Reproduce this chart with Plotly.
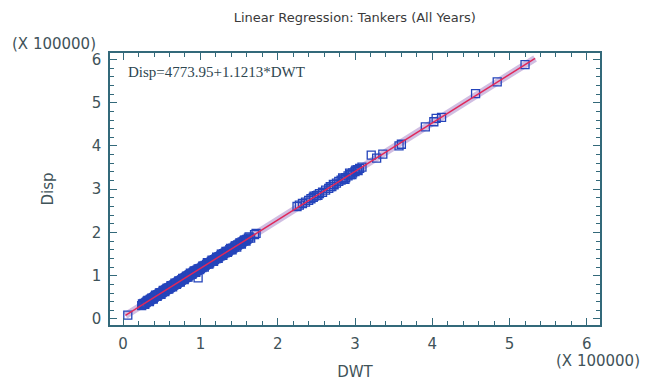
import numpy as np
import plotly.graph_objects as go

# Tanker data (thousand tonnes): deadweight vs displacement
dwt_k = [6, 24, 26, 27, 29, 30, 31, 33, 34, 35, 36, 38, 39, 40, 41, 42, 43, 44, 45, 46,
         47, 48, 49, 50, 51, 52, 53, 54, 55, 56, 57, 58, 59, 60, 61, 62, 63, 64, 65, 66,
         67, 68, 69, 70, 71, 72, 73, 74, 75, 76, 77, 78, 79, 80, 81, 82, 83, 84, 85, 86,
         87, 88, 89, 90, 91, 92, 93, 94, 95, 96, 97, 98, 99, 100, 102, 104, 106, 108, 110, 112,
         114, 116, 118, 120, 122, 124, 126, 128, 130, 132, 134, 136, 138, 140, 142, 144, 146, 148, 150, 152,
         154, 156, 158, 160, 162, 170, 172,
         25, 28, 32, 34, 37, 39, 42, 44, 47, 49, 52, 54, 57, 59, 62, 64, 67, 69, 72, 74,
         77, 79, 82, 84, 87, 89, 92, 94, 97, 99, 103, 105, 109, 111, 115, 117, 121, 123, 127, 129,
         133, 135, 139, 141, 145, 147, 151, 153, 157, 159, 163, 165,
         225, 228, 232, 236, 240, 243, 246, 250, 254, 258, 262, 266, 270, 273, 276, 279, 282, 285, 288, 291,
         294, 297, 300, 303, 306, 309, 247, 252, 268, 272, 284, 287, 293, 296, 301, 304,
         321, 328, 336, 357, 360, 391, 402, 405, 412, 456, 484, 520]
disp_k = [9, 31, 34, 36, 37, 39, 41, 41, 43, 45, 46, 47, 49, 50, 52, 52, 54, 55, 56, 57,
          58, 60, 61, 61, 62, 64, 65, 66, 67, 69, 69, 70, 72, 72, 73, 75, 76, 77, 78, 79,
          80, 81, 83, 83, 85, 86, 87, 88, 89, 91, 92, 93, 94, 95, 96, 97, 98, 100, 101, 102,
          103, 104, 105, 106, 108, 108, 110, 111, 112, 113, 95, 115, 116, 117, 119, 122, 124, 126, 128, 130,
          133, 135, 137, 139, 142, 144, 146, 149, 151, 153, 155, 157, 160, 162, 164, 166, 169, 171, 173, 175,
          178, 180, 182, 184, 187, 195, 198,
          35, 34, 43, 40, 48, 46, 55, 52, 60, 57, 66, 63, 71, 69, 77, 74, 83, 80, 88, 85,
          94, 91, 99, 97, 106, 103, 111, 108, 116, 114, 122, 120, 130, 127, 136, 133, 143, 140, 150, 147,
          156, 154, 163, 160, 169, 166, 176, 173, 182, 180, 190, 187,
          260, 263, 267, 270, 274, 278, 281, 285, 290, 293, 298, 302, 306, 310, 314, 318, 321, 324, 327, 331,
          334, 338, 341, 345, 348, 351, 284, 286, 306, 311, 326, 323, 337, 334, 344, 343,
          379, 372, 381, 400, 404, 444, 456, 464, 466, 521, 548, 588]

# fitted model shown in the chart
intercept = 4773.95
slope = 1.1213
fit_range = [3000, 533000]

x_ticks = [0, 1, 2, 3, 4, 5, 6]
y_ticks = [0, 1, 2, 3, 4, 5, 6]
scale = 100000

dwt = np.array(dwt_k) * 1000
disp = np.array(disp_k) * 1000
fit_x = np.array(fit_range)
fit_y = intercept + slope * fit_x

frame = '#33697a'
txt = '#3f5359'
font = 'DejaVu Sans'

fig = go.Figure()
fig.add_trace(go.Scatter(x=fit_x, y=fit_y, mode='lines',
                         line=dict(color='rgba(150,110,190,0.45)', width=7),
                         hoverinfo='skip', showlegend=False))
fig.add_trace(go.Scatter(x=dwt, y=disp, mode='markers',
                         marker=dict(symbol='square-open', size=8, color='#2444bb',
                                     line=dict(width=1.3)),
                         showlegend=False))
fig.add_trace(go.Scatter(x=fit_x, y=fit_y, mode='lines',
                         line=dict(color='#e0285a', width=1.5),
                         hoverinfo='skip', showlegend=False))

axis_common = dict(
    showgrid=False, zeroline=False, automargin=False,
    showline=True, linecolor=frame, linewidth=1.5, mirror='ticks',
    ticks='inside', ticklen=7, tickwidth=1.2, tickcolor=frame,
    minor=dict(dtick=0.2 * scale, ticks='inside', ticklen=4, tickwidth=1, tickcolor=frame),
    tickfont=dict(family=font, size=15, color=txt),
    ticklabelstandoff=4,
)

fig.update_xaxes(range=[-0.17 * scale, 6.17 * scale],
                 tickvals=[t * scale for t in x_ticks], ticktext=[str(t) for t in x_ticks],
                 title=dict(text='DWT', font=dict(family=font, size=15, color=txt), standoff=15),
                 **axis_common)
fig.update_yaxes(range=[-0.14 * scale, 6.15 * scale],
                 tickvals=[t * scale for t in y_ticks], ticktext=[str(t) for t in y_ticks],
                 title=dict(text='Disp', font=dict(family=font, size=15, color=txt), standoff=34),
                 **axis_common)

# the page body adds an 8px offset, so the figure is 8px smaller than the window
fig.update_layout(
    width=641, height=382,
    margin=dict(l=102, r=49, t=45, b=65),
    paper_bgcolor='white', plot_bgcolor='white',
    title=dict(text='Linear Regression: Tankers (All Years)', x=0.541, xanchor='center',
               y=0.974, yanchor='middle',
               font=dict(family=font, size=13, color='#3a3a3a')),
    annotations=[
        dict(text='Disp=4773.95+1.1213*DWT', xref='paper', yref='paper', x=0.033, y=0.93,
             xanchor='left', yanchor='middle', showarrow=False,
             font=dict(family='Liberation Serif', size=15, color='#2e4650')),
        dict(text='(X 100000)', xref='paper', yref='paper', x=-0.204, y=0.993,
             xanchor='left', yanchor='bottom', showarrow=False,
             font=dict(family=font, size=15, color=txt)),
        dict(text='(X 100000)', xref='paper', yref='paper', x=1.086, y=-0.132,
             xanchor='right', yanchor='middle', showarrow=False,
             font=dict(family=font, size=15, color=txt)),
    ],
)

fig.write_html("out.html")
